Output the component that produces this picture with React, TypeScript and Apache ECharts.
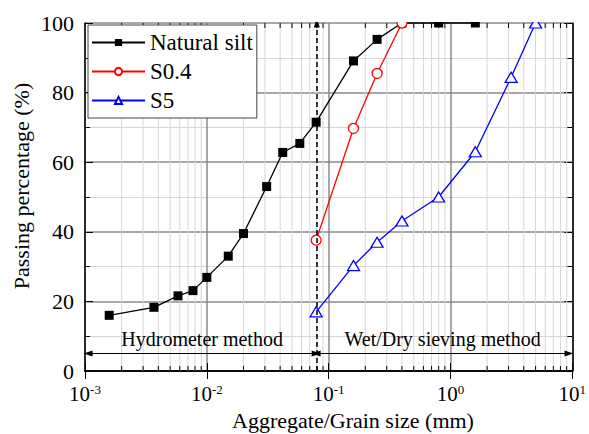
import React, { useEffect, useRef } from 'react';
import * as echarts from 'echarts';

const FONT = 'Liberation Serif, Times New Roman, serif';

// Natural silt
const siltSize = [0.00158, 0.00368, 0.0058, 0.0077, 0.01, 0.015, 0.02, 0.031, 0.042, 0.058, 0.079, 0.16, 0.25, 0.4, 0.8, 1.6];
const siltPass = [16.0, 18.3, 21.6, 23.1, 26.9, 33.0, 39.5, 53.0, 62.8, 65.4, 71.5, 89.1, 95.3, 100, 100, 100];
// S0.4
const s04Size = [0.079, 0.16, 0.25, 0.4];
const s04Pass = [37.6, 69.7, 85.5, 100];
// S5
const s5Size = [0.079, 0.16, 0.25, 0.4, 0.8, 1.6, 3.15, 5];
const s5Pass = [17.0, 30.3, 37.0, 43.1, 50.0, 63.0, 84.4, 100];

const seriesNames = ['Natural silt', 'S0.4', 'S5'];
const yTicks = [0, 20, 40, 60, 80, 100];
const xMin = 0.001;
const xMax = 10;
const dividerSize = 0.079;
const arrowLevel = 5;
const hydroRange = [0.00106, dividerSize];
const sieveRange = [dividerSize, 9.4];
const hydroLabel = 'Hydrometer method';
const sieveLabel = 'Wet/Dry sieving method';
const xTitle = 'Aggregate/Grain size (mm)';
const yTitle = 'Passing percentage (%)';

const minorX: number[] = [];
for (let e = -3; e < 1; e++) {
  for (let k = 2; k <= 9; k++) minorX.push(k * Math.pow(10, e));
}

const pair = (xs: number[], ys: number[]) => xs.map((x, i) => [x, ys[i]]);

export default function App() {
  const ref = useRef<HTMLDivElement>(null);
  useEffect(() => {
    const chart = echarts.init(ref.current!, null, { renderer: 'svg' });
    const axisLine = { show: true, lineStyle: { color: '#000', width: 1.5 } };
    const option: any = {
      animation: false,
      backgroundColor: '#fff',
      textStyle: { fontFamily: FONT },
      grid: { left: 85, right: 14, top: 23, bottom: 63, containLabel: false },
      legend: {
        data: seriesNames,
        orient: 'vertical',
        left: 88,
        top: 25,
        backgroundColor: '#fff',
        borderColor: '#444',
        borderWidth: 1,
        borderRadius: 0,
        padding: [6, 4, 6, 3],
        itemGap: 6,
        itemWidth: 53,
        itemHeight: 9,
        textStyle: { fontFamily: FONT, fontSize: 23, color: '#000' },
      },
      xAxis: [
        {
          type: 'log',
          logBase: 10,
          min: xMin,
          max: xMax,
          axisLine,
          axisTick: { show: true, inside: true, length: 8, lineStyle: { color: '#000', width: 1 } },
          splitLine: { show: true, lineStyle: { color: '#8a8a8a', width: 1.5 } },
          axisLabel: {
            margin: 12,
            fontFamily: FONT,
            formatter: (v: number) => `{b|10}{s|${Math.round(Math.log10(v))}}`,
            rich: {
              b: { fontFamily: FONT, fontSize: 21, color: '#000', lineHeight: 22 },
              s: { fontFamily: FONT, fontSize: 13, color: '#000', verticalAlign: 'top', lineHeight: 14 },
            },
          },
        },
        {
          type: 'log',
          logBase: 10,
          min: xMin,
          max: xMax,
          position: 'top',
          axisLine,
          axisTick: { show: true, inside: true, length: 8, lineStyle: { color: '#000', width: 1 } },
          splitLine: { show: false },
          axisLabel: { show: false },
        },
      ],
      yAxis: [
        {
          type: 'value',
          min: yTicks[0],
          max: yTicks[yTicks.length - 1],
          interval: 20,
          axisLine,
          axisTick: { show: true, inside: true, length: 8, lineStyle: { color: '#000', width: 1 } },
          minorTick: { show: true, splitNumber: 2, length: 5, lineStyle: { color: '#000', width: 1 } },
          splitLine: { show: true, lineStyle: { color: '#8a8a8a', width: 1.5 } },
          minorSplitLine: { show: true, lineStyle: { color: '#d6d6d6', width: 1 } },
          axisLabel: { fontFamily: FONT, fontSize: 22, color: '#000', margin: 11 },
        },
        {
          type: 'value',
          min: yTicks[0],
          max: yTicks[yTicks.length - 1],
          interval: 20,
          position: 'right',
          axisLine,
          axisTick: { show: true, inside: true, length: 8, lineStyle: { color: '#000', width: 1 } },
          minorTick: { show: true, splitNumber: 2, length: 5, lineStyle: { color: '#000', width: 1 } },
          splitLine: { show: false },
          axisLabel: { show: false },
        },
      ],
      series: [
        {
          type: 'custom',
          name: 'minorGrid',
          silent: true,
          z: 1,
          xAxisIndex: 0,
          yAxisIndex: 0,
          data: minorX.map((v) => [v, 0]),
          renderItem: (_p: any, api: any) => {
            const v = api.value(0);
            const b = api.coord([v, 0]);
            const t = api.coord([v, 100]);
            return {
              type: 'group',
              children: [
                { type: 'line', shape: { x1: b[0], y1: b[1], x2: t[0], y2: t[1] }, style: { stroke: '#d6d6d6', lineWidth: 1 } },
                { type: 'line', shape: { x1: b[0], y1: b[1], x2: b[0], y2: b[1] - 5 }, style: { stroke: '#000', lineWidth: 1 } },
                { type: 'line', shape: { x1: t[0], y1: t[1], x2: t[0], y2: t[1] + 5 }, style: { stroke: '#000', lineWidth: 1 } },
              ],
            };
          },
        },
        {
          type: 'line',
          name: 'annot',
          data: [],
          silent: true,
          markLine: {
            silent: true,
            animation: false,
            data: [
              {
                xAxis: dividerSize,
                symbol: 'none',
                label: { show: false },
                lineStyle: { type: [5, 3], color: '#000', width: 1.5 },
              },
              [
                { coord: [hydroRange[0], arrowLevel], name: hydroLabel },
                { coord: [hydroRange[1], arrowLevel] },
              ],
              [
                { coord: [sieveRange[0], arrowLevel], name: sieveLabel },
                { coord: [sieveRange[1], arrowLevel] },
              ],
            ],
            symbol: ['triangle', 'triangle'],
            symbolSize: [6, 9],
            lineStyle: { type: 'solid', color: '#000', width: 1 },
            itemStyle: { color: '#000' },
            label: {
              show: true,
              position: 'insideMiddleTop',
              formatter: '{b}',
              distance: 5,
              fontFamily: FONT,
              fontSize: 20,
              color: '#000',
            },
          },
        },
        {
          type: 'line',
          name: seriesNames[0],
          data: pair(siltSize, siltPass),
          clip: false,
          z: 3,
          symbol: 'rect',
          symbolSize: 9,
          lineStyle: { color: '#000', width: 1.3 },
          itemStyle: { color: '#000' },
        },
        {
          type: 'line',
          name: seriesNames[1],
          data: pair(s04Size, s04Pass),
          clip: false,
          z: 4,
          symbol: 'circle',
          symbolSize: 10,
          lineStyle: { color: '#ff0000', width: 1.3 },
          itemStyle: { color: '#fff', borderColor: '#ff0000', borderWidth: 1.3 },
        },
        {
          type: 'line',
          name: seriesNames[2],
          data: pair(s5Size, s5Pass),
          clip: false,
          z: 4,
          symbol: 'triangle',
          symbolSize: [12, 10],
          lineStyle: { color: '#0000ff', width: 1.3 },
          itemStyle: { color: '#fff', borderColor: '#0000ff', borderWidth: 1.3 },
        },
      ],
      graphic: [
        {
          type: 'rect',
          silent: true,
          z: 100,
          shape: { x: 84, y: 0, width: 492, height: 22 },
          style: { fill: '#fff' },
        },
        {
          type: 'text',
          silent: true,
          x: 21,
          y: 186,
          rotation: Math.PI / 2,
          style: { text: yTitle, fontFamily: FONT, fontSize: 22, fill: '#000', align: 'center', verticalAlign: 'middle' },
        },
        {
          type: 'text',
          silent: true,
          x: 353,
          y: 409,
          style: { text: xTitle, fontFamily: FONT, fontSize: 22, fill: '#000', align: 'center', verticalAlign: 'top' },
        },
      ],
    };
    chart.setOption(option);
    return () => chart.dispose();
  }, []);
  return (
    <div
      ref={ref}
      style={{ position: 'fixed', left: 0, top: 0, width: 589, height: 434, background: '#fff' }}
    />
  );
}
